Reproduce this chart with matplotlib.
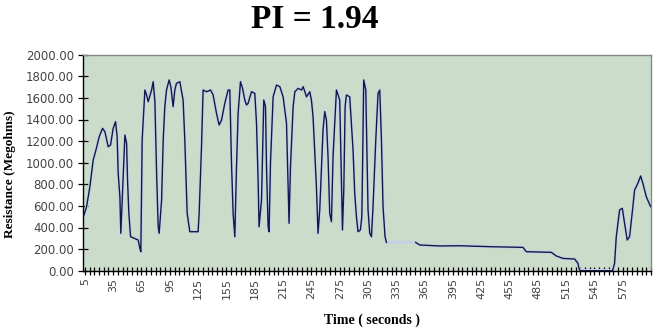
import numpy as np
import matplotlib
matplotlib.use('Agg')
import matplotlib.pyplot as plt
from matplotlib.ticker import MultipleLocator, FormatStrFormatter

# time (s) and resistance (megohms)
time_s = [4, 6.8, 10.3, 13.8, 16.7, 20.2, 23.7, 26.2, 29.7, 32.2, 35, 37.5, 39.2, 40.3, 42.1, 43.1,
          47.4, 49.2, 50.2, 51.6, 53.4, 61.5, 63.3, 64.3, 65.7, 68.6, 70.4, 72.1, 75.7, 77.4, 79.2,
          81, 82.7, 83.7, 86.3, 88, 89.7, 91.5, 94.3, 96.1, 98.5, 100.3, 102.1, 105.6, 109.1, 110.9,
          113.4, 116.2, 125, 126.1, 128.6, 130.3, 133.9, 138.2, 140.9, 144.5, 147.3, 149.8, 153.3,
          156.8, 158.6, 160.4, 162.1, 163.9, 165.7, 167.4, 169.9, 172.1, 174.5, 176.3, 178, 181.6,
          185.1, 186.9, 188.6, 189.6, 192.2, 194.6, 196.4, 197.5, 199.2, 200.2, 201.7, 204.5, 208.1,
          211.6, 215.1, 218.7, 220.4, 221.4, 222.9, 225.7, 227.5, 231, 234.6, 236.3, 239.9, 243.3,
          245.1, 246.8, 250.4, 252.1, 253.9, 257.4, 259.2, 261, 262.7, 264.5, 266.3, 268, 271.6,
          275.1, 276.9, 278, 279.4, 280.8, 282.2, 285.7, 289.2, 291, 292.8, 294.5, 297, 298.5,
          299.2, 300.5, 302.7, 304, 305.1, 306.9, 308.7, 310.4, 313.3, 315.7, 317.5, 319.3, 321,
          323.1, 324.6, 355.6, 359.9, 381, 402, 435.8, 469.3, 472.9, 499.4, 504.7, 511.7, 524.1,
          527.6, 528.6, 530, 564.3, 566.4, 568.2, 571.7, 574.6, 577, 579.8, 582.3, 585.8, 587.6, 591.1,
          594, 596.4, 600, 604.6]
resistance = [516, 593, 778, 1025, 1117, 1241, 1318, 1287, 1148, 1164, 1318, 1380, 1241, 901, 685, 346,
              1256, 1179, 840, 531, 315, 284, 207, 176, 1210, 1673, 1627, 1565, 1673, 1750, 1565,
              901, 407, 346, 654, 1210, 1519, 1673, 1766, 1704, 1519, 1673, 1735, 1750, 1580, 1210,
              531, 361, 361, 531, 1148, 1673, 1657, 1673, 1627, 1457, 1349, 1394, 1550,
              1673, 1673, 994, 531, 315, 963, 1457, 1750, 1688, 1580, 1534, 1550, 1657,
              1642, 1364, 840, 407, 654, 1580, 1519, 963, 407, 361, 994, 1610, 1719,
              1704, 1610, 1364, 778, 439, 963, 1519, 1657, 1688, 1673, 1704, 1610, 1657,
              1580, 1427, 778, 346, 562, 1303, 1473, 1394, 1056, 531, 454, 1056, 1673,
              1580, 840, 377, 748, 1519, 1627, 1610, 1117, 716, 500, 361, 377, 500,
              901, 1766, 1673, 1056, 562, 346, 315, 593, 1210, 1642, 1673, 1210, 593,
              315, 262, 262, 238, 229, 231, 222, 216, 176, 170, 136, 114, 108,
              68, 22, 0, 0, 68, 315, 562, 578, 439, 284, 315, 593, 747, 809,
              877, 809, 685, 593]
# stretch with no dark trace (only the pale line shows)
gap_start, gap_end = 324.6, 355.6

xtick_vals = list(range(5, 576, 30))
ytick_vals = list(range(0, 2001, 200))

t = np.array(time_s, dtype=float)
r = np.array(resistance, dtype=float)

fig = plt.figure(figsize=(6.58, 3.32), dpi=100)
ax = fig.add_axes([83 / 658, 1 - 270.7 / 332, (651 - 83) / 658, (270.7 - 54.7) / 332])
ax.set_facecolor('#CCDCCA')

# pale halo line under the dark trace
ax.plot(t, r, color='#C4D2E2', linewidth=2.4, solid_joinstyle='round', zorder=2)
m1 = t <= gap_start
m2 = t >= gap_end
ax.plot(t[m1], r[m1], color='#0E1A4C', linewidth=1.0, zorder=3)
ax.plot(t[m2], r[m2], color='#0E1A4C', linewidth=1.0, zorder=3)

ax.set_xlim(3, 605)
ax.set_ylim(0, 2000)
ax.set_xticks(xtick_vals)
ax.set_xticklabels([str(v) for v in xtick_vals], rotation=90, fontsize=8, color='#444444',
                   family='DejaVu Sans')
ax.xaxis.set_minor_locator(MultipleLocator(5))
ax.set_yticks(ytick_vals)
ax.yaxis.set_major_formatter(FormatStrFormatter('%.2f'))
for lab in ax.get_yticklabels():
    lab.set_fontsize(8.5)
    lab.set_color('#444444')

ax.tick_params(axis='both', which='both', direction='inout', color='black', width=0.9)
ax.tick_params(axis='x', which='major', length=6, pad=2)
ax.tick_params(axis='x', which='minor', length=6)
ax.tick_params(axis='y', which='major', length=7, pad=3)

for s in ['left', 'bottom']:
    ax.spines[s].set_color('black')
    ax.spines[s].set_linewidth(1.0)
for s in ['top', 'right']:
    ax.spines[s].set_color('#888888')
    ax.spines[s].set_linewidth(1.0)

fig.text(315 / 658, 1 - 19 / 332, 'PI = 1.94', ha='center', va='center',
         fontsize=24, fontweight='bold', family='Liberation Serif')
fig.text(10 / 658, 1 - 174 / 332, 'Resistance (Megohms)', ha='center', va='center',
         rotation=90, fontsize=9.5, fontweight='bold', family='Liberation Serif')
fig.text(372 / 658, 1 - 320 / 332, 'Time ( seconds )', ha='center', va='center',
         fontsize=10, fontweight='bold', family='Liberation Serif')

fig.savefig('out.png', dpi=100, facecolor='white')
